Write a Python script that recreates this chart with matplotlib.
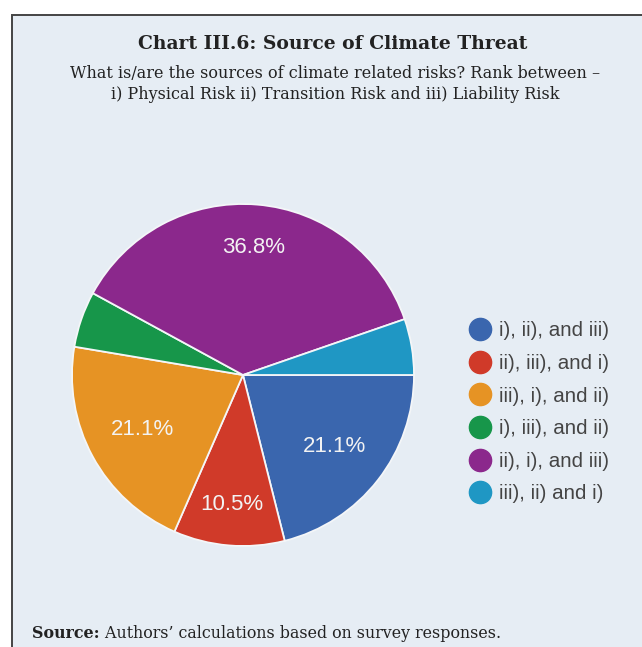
import matplotlib.pyplot as plt
import numpy as np
from matplotlib.patches import Rectangle
from matplotlib.lines import Line2D

# Survey responses (share of respondents, %)
labels = ['i), ii), and iii)', 'ii), iii), and i)', 'iii), i), and ii)',
          'i), iii), and ii)', 'ii), i), and iii)', 'iii), ii) and i)']
shares = [21.1, 10.5, 21.1, 5.3, 36.8, 5.3]
colors = ['#3a66ae', '#d03a29', '#e69324', '#17964a', '#8b288c', '#1f97c4']

title = 'Chart III.6: Source of Climate Threat'
subtitle = ('What is/are the sources of climate related risks? Rank between \u2013\n'
            'i) Physical Risk ii) Transition Risk and iii) Liability Risk')
source_label = 'Source:'
source_text = ' Authors\u2019 calculations based on survey responses.'

W, H = 642, 647
bg = '#e6edf4'

fig = plt.figure(figsize=(W / 100, H / 100), dpi=100)
fig.patch.set_facecolor('white')

# Box panel
frame = Rectangle((12 / W, -0.01), 1.0, (H - 15) / H + 0.01, transform=fig.transFigure,
                  facecolor=bg, edgecolor='#444444', linewidth=1.4, zorder=-5)
fig.patches.append(frame)

fig.text(333 / W, 1 - 44 / H, title, ha='center', va='center',
         family='DejaVu Serif', fontweight='bold', fontsize=13.5, color='#222222')
fig.text(335 / W, 1 - 84 / H, subtitle, ha='center', va='center',
         family='DejaVu Serif', fontsize=11.5, color='#222222', linespacing=1.3)

# Pie
r_px = 171
cx, cy = 243, 375
ax = fig.add_axes([(cx - r_px) / W, 1 - (cy + r_px) / H, 2 * r_px / W, 2 * r_px / H],
                  zorder=2)
ax.patch.set_alpha(0)
wedges, _ = ax.pie(shares, colors=colors, startangle=0, counterclock=False,
                   radius=1.0,
                   wedgeprops=dict(edgecolor='#f4f6f8', linewidth=1.3))
ax.set_xlim(-1, 1)
ax.set_ylim(-1, 1)
ax.set_aspect('equal')
ax.axis('off')

# Percent labels on the larger slices
label_dist = [0.68, 0.76, 0.67, None, 0.75, None]
for w, s, d in zip(wedges, shares, label_dist):
    if d is None:
        continue
    mid = np.deg2rad((w.theta1 + w.theta2) / 2)
    ax.text(d * np.cos(mid), d * np.sin(mid), f'{s:.1f}%', ha='center', va='center',
            color='#f3f3f3', fontsize=16, family='Liberation Sans')

# Legend
handles = [Line2D([], [], marker='o', linestyle='none', markersize=16,
                  markerfacecolor=c, markeredgecolor=c) for c in colors]
fig.legend(handles, labels, loc='upper left', bbox_to_anchor=(445 / W, 1 - 303 / H),
           frameon=False, handletextpad=0.15, labelspacing=0.66, handlelength=1.6,
           prop=dict(family='Liberation Sans', size=14.8), labelcolor='#444444')

# Source line
t = fig.text(32 / W, 1 - 633 / H, source_label, ha='left', va='center',
             family='DejaVu Serif', fontweight='bold', fontsize=11.4, color='#222222')
fig.canvas.draw()
bb = t.get_window_extent()
fig.text(bb.x1 / W, 1 - 633 / H, source_text, ha='left', va='center',
         family='DejaVu Serif', fontsize=11.4, color='#222222')

fig.savefig('out.png', dpi=100, facecolor=fig.get_facecolor())
